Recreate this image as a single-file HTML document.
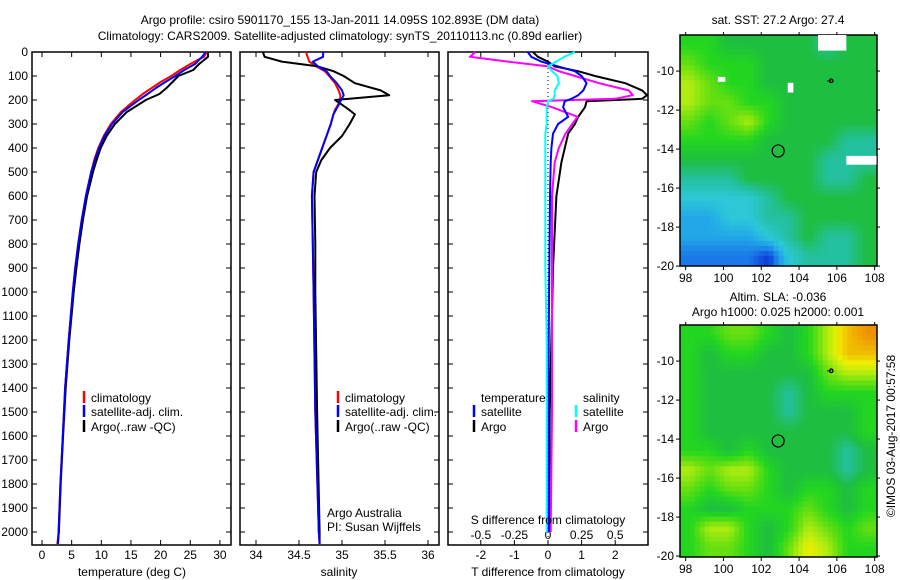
<!DOCTYPE html>
<html><head><meta charset="utf-8">
<style>
html,body{margin:0;padding:0;background:#fff;}
svg{display:block;font-family:"Liberation Sans",sans-serif;font-size:12px;}
</style></head>
<body>
<svg id="c" width="900" height="580" viewBox="0 0 900 580" xmlns="http://www.w3.org/2000/svg">
<text x="340" y="24" text-anchor="middle">Argo profile: csiro 5901170_155 13-Jan-2011 14.095S 102.893E (DM data)</text>
<text x="340" y="40" text-anchor="middle">Climatology: CARS2009. Satellite-adjusted climatology: synTS_20110113.nc (0.89d earlier)</text>
<g id="g"></g>
</svg>
<script>
// ---- data ----
const tempDepth=[0,20,50,75,100,125,150,175,200,250,300,350,400,450,500,600,700,800,900,1000,1200,1400,1600,1800,2000,2050];
const climT=[27.8,27.3,25.0,23.3,21.8,20.0,18.5,17.0,15.7,13.3,11.6,10.4,9.5,8.8,8.3,7.4,6.7,6.1,5.6,5.2,4.5,3.9,3.5,3.1,2.8,2.6];
const satT=[27.6,27.0,25.8,24.0,22.5,20.8,19.2,17.8,16.3,13.6,11.8,10.5,9.6,8.9,8.3,7.4,6.7,6.1,5.6,5.2,4.5,3.9,3.5,3.1,2.8,2.7];
const argoT=[28,28,26.5,25.5,23.0,22.0,21.0,19.8,17.5,14.3,12.3,10.9,9.9,9.2,8.6,7.6,6.9,6.3,5.8,5.35,4.6,4.0,3.55,3.15,2.85,2.65];
const salDepth=[0,20,40,60,80,100,130,160,180,200,215,240,260,300,350,400,450,500,600,800,1000,1500,2000,2050];
const climS=[34.58,34.60,34.62,34.70,34.80,34.85,34.92,34.96,34.98,34.98,34.96,34.92,34.90,34.87,34.82,34.77,34.72,34.67,34.65,34.66,34.67,34.69,34.73,34.74];
const satS=[34.78,34.78,34.66,34.72,34.82,34.86,34.94,35.00,35.02,34.99,34.97,34.93,34.90,34.87,34.82,34.77,34.72,34.67,34.65,34.66,34.67,34.69,34.73,34.74];
const argoS=[34.08,34.10,34.30,34.72,34.90,35.02,35.15,35.45,35.55,34.92,34.98,35.08,35.15,35.09,35.00,34.86,34.76,34.70,34.68,34.69,34.69,34.71,34.74,34.74];
const diffDepth=[0,20,40,60,80,100,130,160,180,195,205,230,270,300,340,400,460,600,750,900,1200,1500,2000];
const argoDT=[-0.45,-0.3,0,0.2,0.9,1.4,2.3,2.8,2.95,2.8,1.15,1.1,0.9,0.8,0.6,0.5,0.4,0.25,0.2,0.15,0.1,0.05,0.03];
const satDT=[-0.6,-0.5,-0.2,0.3,0.8,1.0,1.15,1.05,0.9,0.7,0.5,0.45,0.6,0.3,0.15,0.1,0.08,0.06,0.05,0.04,0.02,0.02,0.02];
const argoDS=[-0.54,-0.58,-0.3,0.0,0.08,0.2,0.38,0.6,0.63,0.5,-0.12,0.03,0.22,0.18,0.13,0.08,0.05,0.03,0.03,0.03,0.03,0.03,0.02];
const satDS=[0.2,0.12,0.06,0.0,0.03,0.07,0.08,0.05,0.05,0.04,0.0,-0.01,-0.01,-0.01,-0.02,-0.02,-0.02,-0.02,-0.02,-0.02,-0.01,-0.01,-0.01];
const depthTicks=[0,100,200,300,400,500,600,700,800,900,1000,1100,1200,1300,1400,1500,1600,1700,1800,1900,2000];
const tempTicks=[0,5,10,15,20,25,30];
const salTicks=[34,34.5,35,35.5,36];
const salTickLabels=["34","34.5","35","35.5","36"];
const dTTicks=[-2,-1,0,1,2];
const dSTicks=[-0.5,-0.25,0,0.25,0.5];
const dSTickLabels=["-0.5","-0.25","0","0.25","0.5"];
const lonTicks=[98,100,102,104,106,108];
const latTicks=[-10,-12,-14,-16,-18,-20];
const sstGrid=[
[6,6,5,5,5,5,5,4,5,5],[7,6,6,6,5,5,5,5,5,5],[8,7,6,6,5,5,5,5,5,5],[8,7,7,6,6,5,5,5,5,5],
[7,6,7,8,6,5,5,5,5,5],[6,6,6,6,5,5,5,5,4,4],[5,5,5,5,5,5,5,4,4,4],[4,4,4,5,5,5,5,4,4,5],
[3,3,3,3,4,5,5,5,5,5],[2,2,3,3,4,4,5,5,5,5],[2,2,2,2,3,4,5,4,4,5],[1,1,1,1,0,3,4,4,4,5]];
const slaGrid=[
[6,6,7,7,6,5,6,8,10,11],[6,5,6,6,5,5,6,8,10,10],[6,5,5,5,5,5,5,7,8,8],[6,5,5,5,5,4,5,6,6,6],
[6,5,5,5,5,4,5,5,5,6],[6,5,5,5,5,5,5,5,5,6],[6,6,5,6,5,5,5,5,4,5],[8,7,8,8,6,5,5,5,4,5],
[7,6,7,7,6,5,6,6,5,6],[6,5,5,6,6,6,7,6,5,6],[6,8,8,6,5,6,8,7,6,7],[6,7,7,6,5,7,9,8,6,6]];
const floatLon=102.893, floatLat=-14.095;
const nearLon=105.7, nearLat=-10.5;

const NS="http://www.w3.org/2000/svg";
const G=document.getElementById('g');
function el(t,a,p){const e=document.createElementNS(NS,t);for(const k in a)e.setAttribute(k,a[k]);(p||G).appendChild(e);return e;}
function txt(x,y,s,anchor,p){const e=el('text',{x:x,y:y,'text-anchor':anchor||'start'},p);e.textContent=s;return e;}
const yTop=52,yBot=545;
const yD=d=>yTop+d*0.24;
const xT=t=>42+t*5.93;
const xS=s=>256+(s-34)*86;
const xDT=v=>548+v*33.6;
const xDS=v=>548+v*134.4;

function panel(name,x0,x1){
  const r=el('rect',{x:x0,y:yTop,width:x1-x0,height:yBot-yTop,fill:'none',stroke:'#000','stroke-width':1.5});
  
  
  depthTicks.forEach(d=>{
    const y=yD(d);
    el('line',{x1:x0,x2:x0+5,y1:y,y2:y,stroke:'#000'});
    el('line',{x1:x1-5,x2:x1,y1:y,y2:y,stroke:'#000'});
  });
}
function xticks(x0,ticks,fn,labels,y,name){
  const g=el('g',{});
  
  
  ticks.forEach((t,i)=>{
    const x=fn(t);
    el('line',{x1:x,x2:x,y1:yBot,y2:yBot-5,stroke:'#000'},g);
    el('line',{x1:x,x2:x,y1:yTop,y2:yTop+5,stroke:'#000'},g);
    txt(x,y,labels[i],'middle',g);
  });
}
function line(name,depths,vals,fx,color,w){
  const pts=depths.map((d,i)=>fx(vals[i]).toFixed(1)+','+yD(d).toFixed(1)).join(' ');
  const p=el('polyline',{points:pts,fill:'none',stroke:color,'stroke-width':w||2,'stroke-linejoin':'round'});
  
  
}
function legendItem(x,y,color,label,name){
  const g=el('g',{});
  
  
  el('line',{x1:x,x2:x,y1:y-11,y2:y+1,stroke:color,'stroke-width':2.5},g);
  if(label)txt(x+7,y,label,'start',g);
}

panel('temperature-panel',32,231);
const yl=el('g',{});


depthTicks.forEach(d=>txt(28,yD(d)+4,String(d),'end',yl));
xticks(32,tempTicks,xT,tempTicks.map(String),559,'temperature-x-ticks');
line('temperature-climatology',tempDepth,climT,xT,'#f00');
line('temperature-argo',tempDepth,argoT,xT,'#000');
line('temperature-satellite',tempDepth,satT,xT,'#00f');
txt(132,576,'temperature (deg C)','middle');
legendItem(84,402,'#f00','climatology','legend-climatology');
legendItem(84,416,'#00f','satellite-adj. clim.','legend-satellite');
legendItem(84,431,'#000','Argo(..raw -QC)','legend-argo');

panel('salinity-panel',240,439);
xticks(240,salTicks,xS,salTickLabels,559,'salinity-x-ticks');
line('salinity-climatology',salDepth,climS,xS,'#f00');
line('salinity-argo',salDepth,argoS,xS,'#000');
line('salinity-satellite',salDepth,satS,xS,'#00f');
txt(339,576,'salinity','middle');
legendItem(338,402,'#f00','climatology','legend-climatology-2');
legendItem(338,416,'#00f','satellite-adj. clim.','legend-satellite-2');
legendItem(338,431,'#000','Argo(..raw -QC)','legend-argo-2');
txt(327,517,'Argo Australia');
txt(327,531,'PI: Susan Wijffels');

panel('difference-panel',448,648);
xticks(448,dTTicks,xDT,dTTicks.map(String),559,'t-diff-x-ticks');
const sl=el('g',{});


dSTicks.forEach((t,i)=>txt(xDS(t),539,dSTickLabels[i],'middle',sl));
el('line',{x1:548,x2:548,y1:yTop,y2:yBot,stroke:'#000','stroke-dasharray':'1,3'});
line('t-diff-argo',diffDepth,argoDT,xDT,'#000');
line('s-diff-argo',diffDepth,argoDS,xDS,'#f0f');
line('t-diff-satellite',diffDepth,satDT,xDT,'#00f');
line('s-diff-satellite',diffDepth,satDS,xDS,'#0ff');
txt(548,524,'S difference from climatology','middle');
txt(548,576,'T difference from climatology','middle');
txt(481,402,'temperature');
txt(583,402,'salinity');
legendItem(474,416,'#00f','satellite','legend-t-satellite');
legendItem(474,431,'#000','Argo','legend-t-argo');
legendItem(576,416,'#0ff','satellite','legend-s-satellite');
legendItem(576,431,'#f0f','Argo','legend-s-argo');

// maps
const cmap=[[10,58,216],[26,120,232],[34,168,232],[44,200,216],[36,192,160],[30,190,64],[34,214,32],[102,224,16],[176,236,16],[238,240,0],[240,192,0],[240,144,0]];
function col(v){v=Math.max(0,Math.min(11,v));const i=Math.min(10,Math.floor(v)),f=v-i;
  const a=cmap[i],b=cmap[i+1];return 'rgb('+a.map((c,k)=>Math.round(c+(b[k]-c)*f)).join(',')+')';}
const mx0=680,mx1=877;
const xLon=l=>680+(l-97.7)*18.9;
function map(name,grid,y0,y1){
  const latY=la=>y0+(-8.15-la)*19.5;
  const g=el('g',{});
  
  
  const rows=grid.length,cols=grid[0].length;
  const NX=40,NY=46,cw=(mx1-mx0)/NX,ch=(y1-y0)/NY;
  for(let r=0;r<NY;r++)for(let c=0;c<NX;c++){
    const gx=Math.max(0,Math.min(cols-1.001,(c+0.5)/NX*cols-0.5));
    const gy=Math.max(0,Math.min(rows-1.001,(r+0.5)/NY*rows-0.5));
    const i=Math.floor(gy),j=Math.floor(gx),fy=gy-i,fx=gx-j;
    const v=grid[i][j]*(1-fx)*(1-fy)+grid[i][j+1]*fx*(1-fy)+grid[i+1][j]*(1-fx)*fy+grid[i+1][j+1]*fx*fy;
    el('rect',{x:(mx0+c*cw).toFixed(2),y:(y0+r*ch).toFixed(2),width:(cw+0.5).toFixed(2),height:(ch+0.5).toFixed(2),fill:col(v)},g);
  }
  el('rect',{x:mx0,y:y0,width:mx1-mx0,height:y1-y0,fill:'none',stroke:'#000','stroke-width':1.5},g);
  lonTicks.forEach(l=>{const x=xLon(l);
    el('line',{x1:x,x2:x,y1:y1,y2:y1+4,stroke:'#000'},g);
    el('line',{x1:x,x2:x,y1:y0,y2:y0-3,stroke:'#000'},g);
    txt(x,y1+16,String(l),'middle',g);});
  latTicks.forEach(la=>{const y=latY(la);
    el('line',{x1:mx0-4,x2:mx0,y1:y,y2:y,stroke:'#000'},g);
    el('line',{x1:mx1,x2:mx1+3,y1:y,y2:y,stroke:'#000'},g);
    txt(mx0-6,y+4,String(la),'end',g);});
  const c=el('circle',{cx:xLon(floatLon),cy:latY(floatLat),r:6,fill:'none',stroke:'#000','stroke-width':1.2},g);
  
  
  el('circle',{cx:xLon(nearLon),cy:latY(nearLat),r:1.8,fill:'none',stroke:'#000','stroke-width':1.2},g);
  el('line',{x1:xLon(nearLon)-4,x2:xLon(nearLon),y1:latY(nearLat),y2:latY(nearLat),stroke:'#000'},g);
  return latY;
}
const ly=map('sst-map',sstGrid,35,266);
[[105,-8.15,1.5,0.8],[106.5,-14.35,1.6,0.45],[99.7,-10.3,0.4,0.25],[103.4,-10.6,0.3,0.5]].forEach(p=>{
  el('rect',{x:xLon(p[0]),y:ly(p[1]),width:p[2]*18.9,height:p[3]*19.5,fill:'#fff'});
});
txt(778,24,'sat. SST: 27.2 Argo: 27.4','middle');
map('sla-map',slaGrid,325,557);
txt(778,301,'Altim. SLA: -0.036','middle');
txt(778,316,'Argo h1000: 0.025 h2000: 0.001','middle');
const ts=txt(0,0,'©IMOS 03-Aug-2017 00:57:58','middle');
ts.setAttribute('transform','translate(895,436) rotate(-90)');


</script>
</body></html>
